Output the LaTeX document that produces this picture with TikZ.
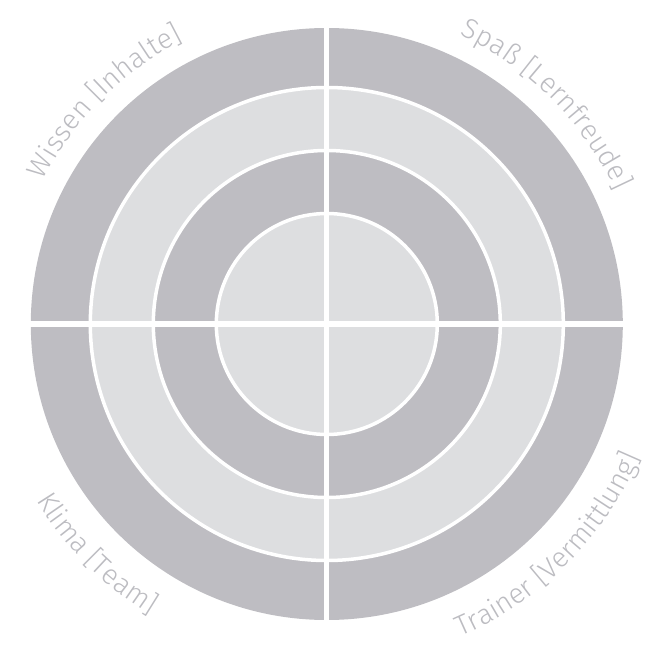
\documentclass[tikz,border=0pt]{standalone}
\usepackage{fontspec}
\setmainfont{Fira Sans Light}
\usetikzlibrary{decorations.text}
\definecolor{ringdark}{RGB}{190,189,194}
\definecolor{ringlight}{RGB}{221,222,224}
\definecolor{labelgray}{RGB}{188,188,193}
\newcommand{\lblfmt}{\fontsize{28}{32}\selectfont\color{labelgray}}
\tikzset{
  ringsep/.style={draw=white, line width=3.5pt},
  crossline/.style={draw=white, line width=5pt},
  arclabel/.style={decorate, decoration={text along path, text align=center, text={|\lblfmt|#1}}}
}
\begin{document}
\begin{tikzpicture}[x=1pt,y=1pt]
\useasboundingbox (0,0) rectangle (652,651);
\coordinate (c) at (326.8,327);
\fill[ringdark]  (c) circle[radius=296];
\fill[ringlight] (c) circle[radius=236.5];
\fill[ringdark]  (c) circle[radius=173.5];
\fill[ringlight] (c) circle[radius=110.5];
\draw[ringsep] (c) circle[radius=236.5];
\draw[ringsep] (c) circle[radius=173.5];
\draw[ringsep] (c) circle[radius=110.5];
\coordinate (w) at ([xshift=-298pt]c);
\coordinate (e) at ([xshift=298pt]c);
\coordinate (n) at ([yshift=298pt]c);
\coordinate (s) at ([yshift=-298pt]c);
\draw[crossline] (w) -- (e);
\draw[crossline] (n) -- (s);
\path[arclabel={Wissen [Inhalte]}] (c) ++(165:318) arc[start angle=165, end angle=105, radius=318];
\path[arclabel={Spaß [Lernfreude]}] (c) ++(75:318) arc[start angle=75, end angle=15, radius=318];
\path[arclabel={Klima [Team]}] (c) ++(195:340) arc[start angle=195, end angle=255, radius=340];
\path[arclabel={Trainer [Vermittlung]}] (c) ++(285:340) arc[start angle=285, end angle=345, radius=340];
\end{tikzpicture}
\end{document}
